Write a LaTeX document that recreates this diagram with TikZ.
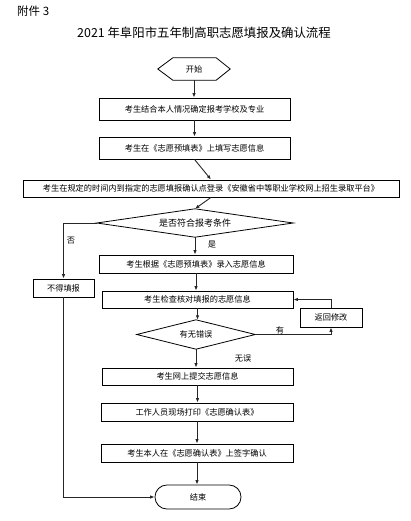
\documentclass[tikz,border=0pt]{standalone}
\usepackage{fontspec}
\setmainfont{Noto Sans CJK SC}
\usetikzlibrary{arrows.meta}
\tikzset{
  box/.style={draw=black, line width=0.8pt, inner sep=0pt, font=\fontsize{8.2}{9}\selectfont},
  ghost/.style={inner sep=0pt, font=\fontsize{8.2}{9}\selectfont},
  arr/.style={line width=0.9pt, draw=black!85, -{Latex[length=4.5pt,width=3.5pt]}},
  lbl/.style={inner sep=0pt, font=\fontsize{8.2}{9}\selectfont},
  outline/.style={draw=black, line width=0.8pt}
}
\begin{document}
\begin{tikzpicture}[x=1pt,y=-1pt]
\useasboundingbox (0,0) rectangle (410,521);
% headings
\node[anchor=west, inner sep=0pt, font=\fontsize{11.5}{12}\selectfont] (att) at (17,11) {附件 3};
\node[inner sep=0pt, font=\fontsize{12.4}{13}\selectfont] (title) at (204,33) {2021 年阜阳市五年制高职志愿填报及确认流程};
% start hexagon
\node[ghost, minimum width=72pt, minimum height=22pt] (start) at (194,69) {开始};
\draw[outline] (start.west) -- ([xshift=15pt]start.north west) -- ([xshift=-14pt]start.north east) -- (start.east) -- ([xshift=-14pt]start.south east) -- ([xshift=15pt]start.south west) -- cycle;
% boxes
\node[box, minimum width=191pt, minimum height=22pt] (b1) at (194.5,109) {考生结合本人情况确定报考学校及专业};
\node[box, minimum width=191pt, minimum height=22pt] (b2) at (194.5,148) {考生在《志愿预填表》上填写志愿信息};
\node[box, minimum width=376pt, minimum height=17pt] (b3) at (211,188.5) {考生在规定的时间内到指定的志愿填报确认点登录《安徽省中等职业学校网上招生录取平台》};
\node[ghost, minimum width=196pt, minimum height=28pt, font=\fontsize{9}{10}\selectfont] (d1) at (195,223) {是否符合报考条件};
\draw[outline] (d1.north) -- (d1.east) -- (d1.south) -- (d1.west) -- cycle;
\node[box, minimum width=194pt, minimum height=18pt] (b4) at (196,264) {考生根据《志愿预填表》录入志愿信息};
\node[box, minimum width=61pt, minimum height=18pt] (no) at (63.5,288) {不得填报};
\node[box, minimum width=191pt, minimum height=17pt] (b5) at (197.5,299.5) {考生检查核对填报的志愿信息};
\node[box, minimum width=62pt, minimum height=19pt] (ret) at (331,317.5) {返回修改};
\node[ghost, minimum width=118pt, minimum height=29pt] (d2) at (196,334.5) {有无错误};
\draw[outline] (d2.north) -- (d2.east) -- (d2.south) -- (d2.west) -- cycle;
\node[box, minimum width=191pt, minimum height=17pt] (b6) at (197.5,376.5) {考生网上提交志愿信息};
\node[box, minimum width=192pt, minimum height=18pt] (b7) at (197,412) {工作人员现场打印《志愿确认表》};
\node[box, minimum width=192pt, minimum height=18pt] (b8) at (197,453) {考生本人在《志愿确认表》上签字确认};
\node[box, rounded corners=11.9pt, minimum width=86pt, minimum height=24pt] (end) at (198,497) {结束};
% connectors
\draw[arr] (start.south) -- (start.south |- b1.north);
\draw[arr] (b1.south) -- (b2.north);
\draw[arr] (b2.south) -- (b3.north);
\draw[arr] (b3.south) -- (d1.north);
\draw[arr] (d1.west) -| (no.north);
\draw[arr] (d1.south) -- (d1.south |- b4.north);
\draw[arr] (no.south) |- (end.west);
\draw[arr] (b4.south) -- (b4.south |- b5.north);
\draw[arr] (b5.south) -- (b5.south |- d2.north);
\draw[arr] (d2.east) -| (ret.south);
\draw[arr] (ret.north) |- (b5.east);
\draw[arr] (d2.south) -- (d2.south |- b6.north);
\draw[arr] (b6.south) -- (b6.south |- b7.north);
\draw[arr] (b7.south) -- (b7.south |- b8.north);
\draw[arr] (b8.south) -- (b8.south |- end.north);
% labels
\node[lbl] (lno) at (71,241) {否};
\node[lbl] (lyes) at (212,245) {是};
\node[lbl] (lhas) at (280,330) {有};
\node[lbl] (lok) at (243,359) {无误};
\end{tikzpicture}
\end{document}
